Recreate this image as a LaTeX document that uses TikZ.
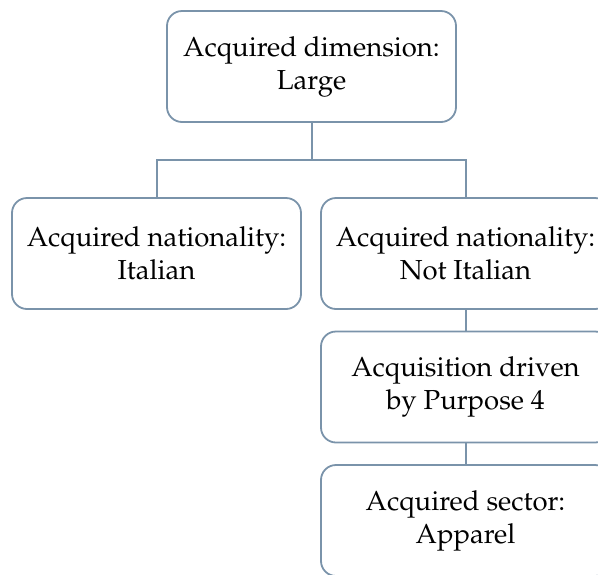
\documentclass[tikz,border=0pt]{standalone}
\usepackage[T1]{fontenc}
\usepackage{mathpazo}
\definecolor{edge}{HTML}{7A93AA}
\tikzset{
  box/.style={draw=edge, line width=1.8pt, rounded corners=15pt, fill=white,
    minimum width=289pt, minimum height=111pt, align=center, inner sep=0pt,
    font=\fontsize{27.5}{33}\selectfont},
  link/.style={draw=edge, line width=2pt}
}
\begin{document}
\begin{tikzpicture}[x=1pt,y=-1pt]
\useasboundingbox (0,0) rectangle (598,574);
\clip (0,0) rectangle (598,574);
\node[box] (top) at (311.5,66.5) {Acquired dimension:\\Large};
\node[box] (left) at (156.5,253.5) {Acquired nationality:\\Italian};
\node[box] (right) at (465.5,253.5) {Acquired nationality:\\Not Italian};
\node[box] (purp) at (465.5,387) {Acquisition driven\\by Purpose 4};
\node[box] (sect) at (465.5,520.5) {Acquired sector:\\Apparel};
\coordinate (mid) at (311.5,160);
\draw[link] (top.south) -- (mid) -| (left.north);
\draw[link] (mid) -| (right.north);
\draw[link] (right.south) -- (purp.north);
\draw[link] (purp.south) -- (sect.north);
\end{tikzpicture}
\end{document}
